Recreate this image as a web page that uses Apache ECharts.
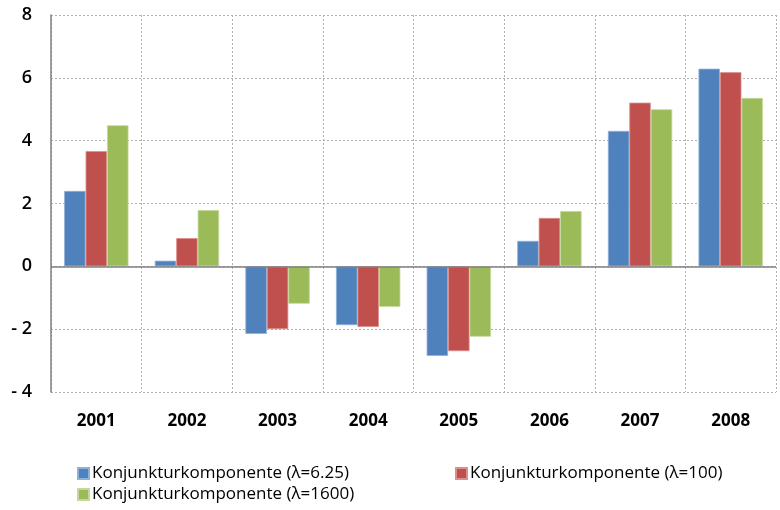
<!DOCTYPE html>
<html>
<head>
<meta charset="utf-8">
<script src="https://cdn.jsdelivr.net/npm/echarts@6/dist/echarts.min.js"></script>
<style>
html,body{margin:0;padding:0;background:#fff;}
#chart{width:780px;height:510px;}
</style>
</head>
<body>
<div id="chart"></div>
<script>
const categories = ['2001','2002','2003','2004','2005','2006','2007','2008'];
const seriesNames = ['Konjunkturkomponente (\u03BB=6.25)','Konjunkturkomponente (\u03BB=100)','Konjunkturkomponente (\u03BB=1600)'];
const lambda625 = [2.40, 0.18, -2.15, -1.87, -2.85, 0.81, 4.31, 6.29];
const lambda100 = [3.67, 0.90, -2.00, -1.93, -2.70, 1.54, 5.21, 6.18];
const lambda1600 = [4.49, 1.79, -1.19, -1.29, -2.24, 1.76, 5.00, 5.36];
const yTickValues = [-4, -2, 0, 2, 4, 6, 8];
const yTickLabels = ['- 4', '- 2', '0', '2', '4', '6', '8'];

const colors = ['#4F81BD', '#C0504D', '#9BBB59'];
const borders = ['#8fb0d8', '#dc8f8d', '#c3d99b'];
const font = '"Open Sans", Lato, sans-serif';

const chart = echarts.init(document.getElementById('chart'));
const dataSets = [lambda625, lambda100, lambda1600];
const series = dataSets.map((d, i) => ({
  name: seriesNames[i],
  type: 'bar',
  data: d,
  barGap: '0%',
  barCategoryGap: '29%',
  itemStyle: { color: colors[i], borderColor: borders[i], borderWidth: 0.8 },
  emphasis: { disabled: true },
  markLine: i === 0 ? {
    silent: true, symbol: 'none', label: { show: false },
    lineStyle: { color: '#808080', type: 'solid', width: 1.5 },
    data: [{ yAxis: 0 }]
  } : undefined,
  z: 2
}));

const legendPos = [[77, 465], [455, 465], [77, 486]];
const legends = seriesNames.map((n, i) => ({
  data: [n],
  left: legendPos[i][0], top: legendPos[i][1], padding: 0,
  itemWidth: 11, itemHeight: 11, icon: 'rect', itemGap: 0,
  textStyle: { fontSize: 17, color: '#000', fontFamily: font, padding: [0, 0, 0, -2] },
  selectedMode: false
}));

chart.setOption({
  animation: false,
  color: colors,
  textStyle: { fontFamily: font },
  grid: { left: 51, right: 4, top: 15, bottom: 118 },
  legend: legends,
  xAxis: {
    type: 'category',
    data: categories,
    axisLine: { show: false },
    axisTick: { show: false },
    axisLabel: { fontSize: 17, fontWeight: 'bold', color: '#000', margin: 21, fontFamily: font },
    splitLine: { show: true, lineStyle: { color: '#b0b0b0', type: [2, 2], width: 1 } }
  },
  yAxis: {
    type: 'value',
    min: -4, max: 8, interval: 2,
    axisLine: { show: true, lineStyle: { color: '#808080', width: 1.5 } },
    axisTick: { show: false },
    axisLabel: {
      fontSize: 18, fontWeight: 600, color: '#000', margin: 19, fontFamily: font,
      formatter: v => yTickLabels[yTickValues.indexOf(v)]
    },
    splitLine: { show: true, lineStyle: { color: '#b0b0b0', type: [2, 2], width: 1 } }
  },
  series: series
});
</script>
</body>
</html>
